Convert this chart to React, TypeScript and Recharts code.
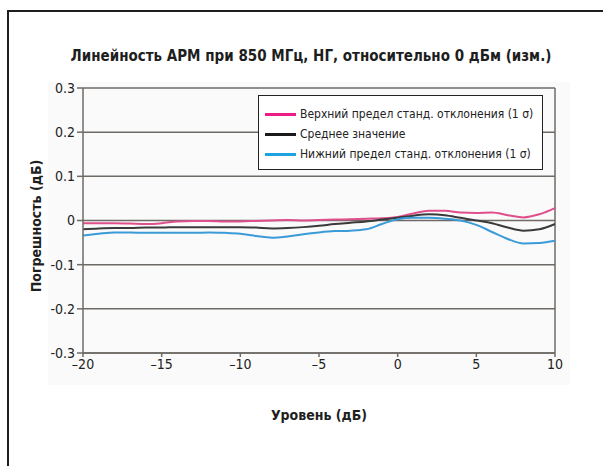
import React from 'react'
import {
  LineChart,
  Line,
  XAxis,
  YAxis,
  CartesianGrid,
  ReferenceLine,
  Label,
} from 'recharts'

const levels = [
  -20, -19, -18, -17, -16, -15, -14, -13, -12, -11, -10, -9, -8, -7, -6, -5, -4, -3, -2, -1, 0, 1, 2,
  3, 4, 5, 6, 7, 8, 9, 10,
]

const upper = [
  -0.006, -0.006, -0.006, -0.007, -0.008, -0.006, -0.002, -0.001, -0.001, -0.002, -0.002, -0.001,
  0.0, 0.001, 0.0, 0.001, 0.002, 0.003, 0.004, 0.005, 0.008, 0.016, 0.022, 0.022, 0.018, 0.017,
  0.018, 0.012, 0.007, 0.014, 0.028,
]

const mean = [
  -0.02, -0.018, -0.017, -0.017, -0.016, -0.016, -0.015, -0.015, -0.015, -0.015, -0.015, -0.016,
  -0.018, -0.017, -0.015, -0.012, -0.008, -0.005, -0.002, 0.002, 0.006, 0.011, 0.014, 0.012, 0.006,
  0.0, -0.006, -0.016, -0.023, -0.02, -0.008,
]

const lower = [
  -0.034, -0.03, -0.027, -0.027, -0.028, -0.028, -0.028, -0.028, -0.027, -0.028, -0.03, -0.035,
  -0.039, -0.036, -0.031, -0.027, -0.024, -0.023, -0.02, -0.008, 0.003, 0.006, 0.006, 0.004, 0.0,
  -0.01, -0.026, -0.042, -0.052, -0.051, -0.046,
]

const xTicks = [-20, -15, -10, -5, 0, 5, 10]
const yTicks = [-0.3, -0.2, -0.1, 0, 0.1, 0.2, 0.3]

const SERIES = [
  { key: 'upper', name: 'Верхний предел станд. отклонения (1 σ)', color: '#de4f8c', legend: '#ec1c84' },
  { key: 'mean', name: 'Среднее значение', color: '#3a3a3a', legend: '#1a1a1a' },
  { key: 'lower', name: 'Нижний предел станд. отклонения (1 σ)', color: '#3a9bd8', legend: '#1ea3e0' },
]

const data = levels.map((x, i) => ({ x, upper: upper[i], mean: mean[i], lower: lower[i] }))

const FONT = "'Liberation Sans Narrow', 'DejaVu Sans Condensed', Roboto, sans-serif"
const GRID = '#6e6a66'

function fmtX(v: number) {
  return v < 0 ? `\u2013${Math.abs(v)}` : `${v}`
}

function fmtY(v: number) {
  if (Math.abs(v) < 1e-9) return '0'
  return v.toFixed(1)
}

function LegendBox() {
  return (
    <div
      style={{
        position: 'absolute',
        left: 258,
        top: 95,
        width: 285,
        height: 75,
        boxSizing: 'border-box',
        border: '1px solid #222',
        background: '#fff',
        padding: '8px 0 0 6px',
        fontFamily: FONT,
        fontSize: 12,
        color: '#222',
      }}
    >
      {SERIES.map((s) => (
        <div key={s.key} style={{ display: 'flex', alignItems: 'center', height: 20 }}>
          <span
            style={{ display: 'inline-block', width: 31, height: 3, background: s.legend, marginRight: 4 }}
          />
          <span>{s.name}</span>
        </div>
      ))}
    </div>
  )
}

export default function App() {
  return (
    <div
      style={{
        position: 'absolute',
        left: 0,
        top: 0,
        width: 603,
        height: 466,
        overflow: 'hidden',
        background: '#fff',
      }}
    >
      {/* outer frame, runs off the right and bottom edge */}
      <div
        style={{
          position: 'absolute',
          left: 7,
          top: 10,
          width: 640,
          height: 520,
          border: '2px solid #1e1e1e',
        }}
      />
      {/* faint plot panel */}
      <div
        style={{ position: 'absolute', left: 48, top: 82, width: 522, height: 303, background: '#fafafa' }}
      />
      <div
        style={{
          position: 'absolute',
          left: 0,
          width: 622,
          top: 47,
          textAlign: 'center',
          fontFamily: FONT,
          fontWeight: 'bold',
          fontSize: 15,
          color: '#1e1e1e',
        }}
      >
        Линейность АРМ при 850 МГц, НГ, относительно 0 дБм (изм.)
      </div>
      <div style={{ position: 'absolute', left: 0, top: 0 }}>
        <LineChart
          width={603}
          height={466}
          data={data}
          margin={{ top: 88, right: 48, bottom: 83, left: 0 }}
        >
          <CartesianGrid vertical={false} stroke={GRID} strokeWidth={1.5} />
          <XAxis
            dataKey="x"
            type="number"
            domain={[-20, 10]}
            ticks={xTicks}
            tickFormatter={fmtX}
            height={30}
            stroke={GRID}
            strokeWidth={1.5}
            tickSize={4}
            tick={{ fill: '#222', fontSize: 14, fontFamily: FONT }}
          >
            <Label
              content={() => (
                <text
                  x={319}
                  y={420}
                  textAnchor="middle"
                  fontFamily={FONT}
                  fontWeight="bold"
                  fontSize={14}
                  fill="#1e1e1e"
                >
                  Уровень (дБ)
                </text>
              )}
            />
          </XAxis>
          <YAxis
            type="number"
            domain={[-0.3, 0.3]}
            ticks={yTicks}
            tickFormatter={fmtY}
            width={83}
            stroke={GRID}
            strokeWidth={1.5}
            tickSize={6}
            tick={{ fill: '#222', fontSize: 14, fontFamily: FONT }}
          >
            <Label
              content={() => (
                <text
                  x={36}
                  y={226}
                  transform="rotate(-90 36 226)"
                  textAnchor="middle"
                  dominantBaseline="central"
                  fontFamily={FONT}
                  fontWeight="bold"
                  fontSize={14}
                  fill="#1e1e1e"
                >
                  Погрешность (дБ)
                </text>
              )}
            />
          </YAxis>
          <ReferenceLine x={10} stroke={GRID} strokeWidth={1.5} />
          {SERIES.map((s) => (
            <Line
              key={s.key}
              type="monotone"
              dataKey={s.key}
              name={s.name}
              stroke={s.color}
              strokeWidth={2}
              dot={false}
              isAnimationActive={false}
            />
          ))}
        </LineChart>
      </div>
      <LegendBox />
    </div>
  )
}
